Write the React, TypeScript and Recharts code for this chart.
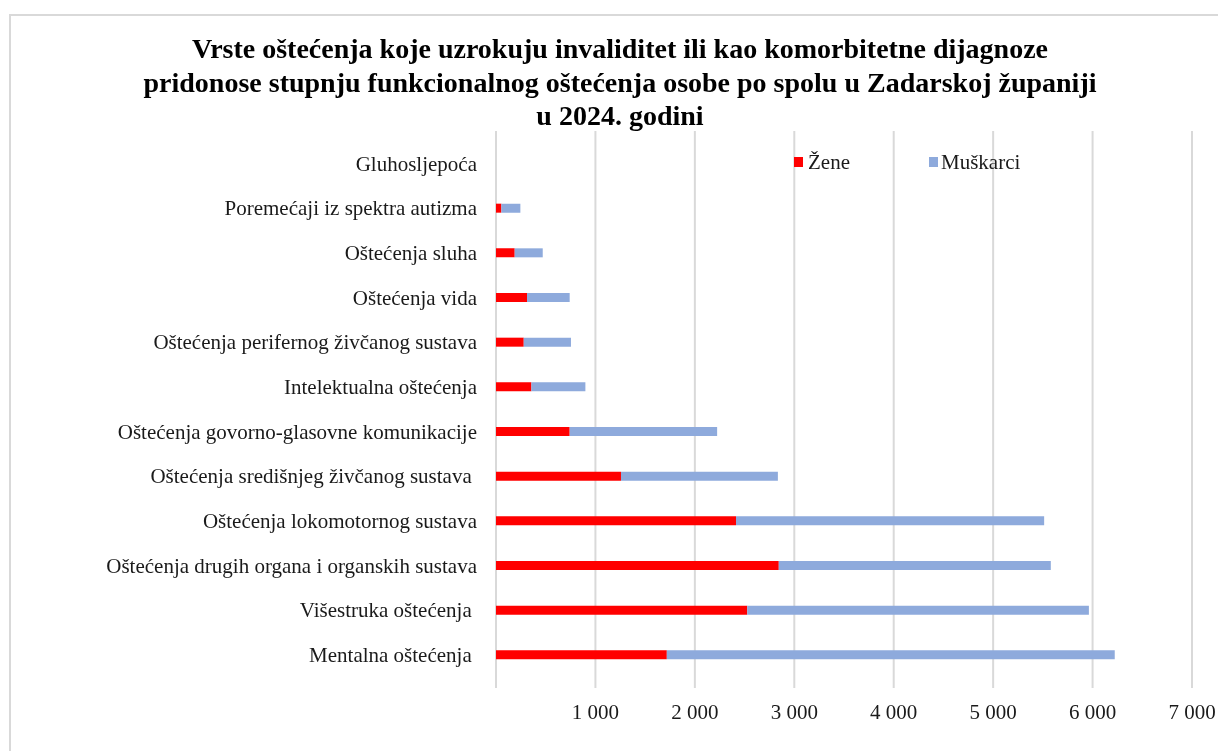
import React from "react";
import { BarChart, Bar, XAxis, YAxis, CartesianGrid, Legend } from "recharts";

// top to bottom, as in the reference
const categories = [
  "Gluhosljepoća",
  "Poremećaji iz spektra autizma",
  "Oštećenja sluha",
  "Oštećenja vida",
  "Oštećenja perifernog živčanog sustava",
  "Intelektualna oštećenja",
  "Oštećenja govorno-glasovne komunikacije",
  "Oštećenja središnjeg živčanog sustava ",
  "Oštećenja lokomotornog sustava",
  "Oštećenja drugih organa i organskih sustava",
  "Višestruka oštećenja ",
  "Mentalna oštećenja ",
];

const zene = [0, 54, 188, 312, 279, 356, 741, 1257, 2414, 2844, 2527, 1718];
const muskarci = [0, 191, 282, 429, 475, 543, 1483, 1578, 3099, 2736, 3436, 4505];

const xTicks = [0, 1000, 2000, 3000, 4000, 5000, 6000, 7000];

const titleLines = [
  "Vrste oštećenja koje uzrokuju invaliditet ili kao komorbitetne dijagnoze",
  "pridonose stupnju funkcionalnog oštećenja osobe po spolu u Zadarskoj županiji",
  "u 2024. godini",
];

const data = categories.map((name, i) => ({
  name,
  zene: zene[i],
  muskarci: muskarci[i],
}));

const FONT = '"Liberation Serif", "Times New Roman", serif';
const TEXT = "#1a1a1a";
const LEGEND_H = 22;

const fmt = (v: number) => {
  if (v === 0) return "";
  const th = Math.floor(v / 1000);
  const rest = String(v % 1000).padStart(3, "0");
  return `${th} ${rest}`;
};

const CategoryTick = (props: any) => {
  const { x, y, payload } = props;
  return (
    <text
      x={x}
      y={y}
      dy="0.35em"
      textAnchor="end"
      fill={TEXT}
      fontSize={21}
      fontFamily={FONT}
      style={{ whiteSpace: "pre" }}
    >
      {payload.value}
    </text>
  );
};

const LegendContent = () => (
  <div
    style={{
      display: "flex",
      alignItems: "center",
      height: LEGEND_H,
      lineHeight: `${LEGEND_H}px`,
      fontFamily: FONT,
      fontSize: 21,
      color: TEXT,
    }}
  >
    <span style={{ width: 9, height: 10, background: "#ff0000", display: "inline-block", marginRight: 5 }} />
    <span style={{ marginRight: 79 }}>Žene</span>
    <span style={{ width: 9, height: 10, background: "#8eaadc", display: "inline-block", marginRight: 3 }} />
    <span>Muškarci</span>
  </div>
);

export default function App() {
  return (
    <>
      <div
        style={{
          position: "fixed",
          left: 9,
          top: 14,
          width: 1209,
          height: 737,
          borderTop: "2px solid #d9d9d9",
          borderLeft: "2px solid #d9d9d9",
          boxSizing: "border-box",
          background: "#fff",
        }}
      />
      <div style={{ position: "fixed", left: 0, top: 0, width: 1218, height: 751 }}>
        <div
          style={{
            position: "absolute",
            left: 20,
            width: 1200,
            top: 32,
            textAlign: "center",
            fontFamily: FONT,
            fontWeight: "bold",
            fontSize: 28,
            lineHeight: "33.5px",
            color: "#000",
          }}
        >
          {titleLines.map((l) => (
            <div key={l} style={{ whiteSpace: "nowrap" }}>{l}</div>
          ))}
        </div>
        <BarChart
          width={1218}
          height={751}
          data={data}
          layout="vertical"
          margin={{ top: 131 - LEGEND_H, right: 26, left: 0, bottom: 23 }}
          barSize={9}
        >
          <CartesianGrid horizontal={false} stroke="#d9d9d9" strokeWidth={2} />
          <XAxis
            type="number"
            domain={[0, 7000]}
            ticks={xTicks}
            tickFormatter={fmt}
            axisLine={false}
            tickLine={false}
            tickMargin={10}
            height={40}
            tick={{ fill: TEXT, fontSize: 21, fontFamily: FONT }}
          />
          <YAxis
            type="category"
            dataKey="name"
            width={496}
            axisLine={false}
            tickLine={false}
            tickMargin={13}
            interval={0}
            padding={{ top: 10, bottom: 11 }}
            tick={<CategoryTick />}
          />
          <Legend
            verticalAlign="top"
            content={<LegendContent />}
            wrapperStyle={{ position: "absolute", top: 151, left: 794, width: "auto" }}
          />
          <Bar dataKey="zene" name="Žene" stackId="a" fill="#ff0000" isAnimationActive={false} />
          <Bar dataKey="muskarci" name="Muškarci" stackId="a" fill="#8eaadc" isAnimationActive={false} />
        </BarChart>
      </div>
    </>
  );
}
